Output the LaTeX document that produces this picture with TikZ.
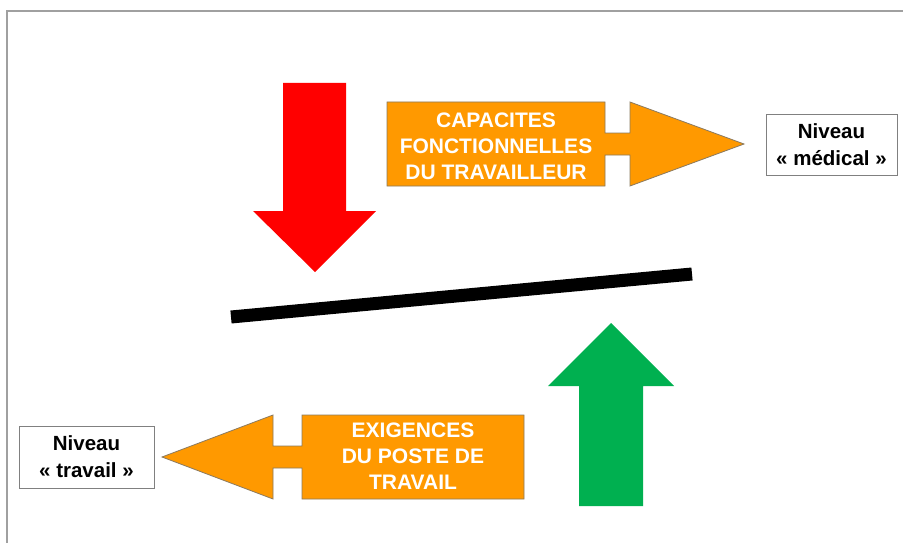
\documentclass[tikz,border=0pt]{standalone}
\usepackage{fontspec}
\setmainfont{Liberation Sans}
\definecolor{calloutorange}{HTML}{FF9900}
\definecolor{calloutedge}{HTML}{8A7A60}
\definecolor{arrowred}{HTML}{FF0000}
\definecolor{arrowgreen}{HTML}{00B050}
\definecolor{framegray}{HTML}{A0A0A0}
\definecolor{boxgray}{HTML}{808080}
\tikzset{
  callout/.style={fill=calloutorange, draw=calloutedge, line width=0.8pt, line join=miter},
  callouttext/.style={text=white, font=\bfseries\fontsize{21}{26}\selectfont, align=center, inner sep=0pt},
  levelbox/.style={draw=boxgray, fill=white, line width=0.9pt, font=\bfseries\fontsize{20.5}{27}\selectfont, align=center, inner sep=0pt, minimum width=131pt, minimum height=61pt},
}
\begin{document}
\begin{tikzpicture}[x=1pt, y=-1pt]
\useasboundingbox (0,0) rectangle (903,543);
\fill[white] (0,0) rectangle (903,543);
% frame
\draw[framegray, line width=2pt] (7,543) -- (7,11) -- (903,11);
% red arrow
\fill[arrowred] (283,83) -- (346,83) -- (346,211) -- (376,211) -- (315,272) -- (253,211) -- (283,211) -- cycle;
% black bar
\draw[black, line width=13pt] (231,317) -- (692,274);
% green arrow
\fill[arrowgreen] (579,506) -- (643,506) -- (643,386) -- (674,386) -- (611,323) -- (548,386) -- (579,386) -- cycle;
% upper callout
\draw[callout] (387,102) -- (605,102) -- (605,133) -- (630,133) -- (630,102) -- (744,144)
  -- (630,186) -- (630,155) -- (605,155) -- (605,186) -- (387,186) -- cycle;
\node[callouttext] (capa) at (496,146) {CAPACITES\\FONCTIONNELLES\\DU TRAVAILLEUR};
% lower callout
\draw[callout] (524,415) -- (302,415) -- (302,446) -- (273,446) -- (273,415) -- (162,457)
  -- (273,499) -- (273,468) -- (302,468) -- (302,499) -- (524,499) -- cycle;
\node[callouttext] (exig) at (413,456) {EXIGENCES\\DU POSTE DE\\TRAVAIL};
% level boxes
\node[levelbox] (med) at (831.5,144.5) {Niveau\\« médical »};
\node[levelbox, minimum width=135pt, minimum height=62pt] (trav) at (86.5,457) {Niveau\\« travail »};
\end{tikzpicture}
\end{document}
